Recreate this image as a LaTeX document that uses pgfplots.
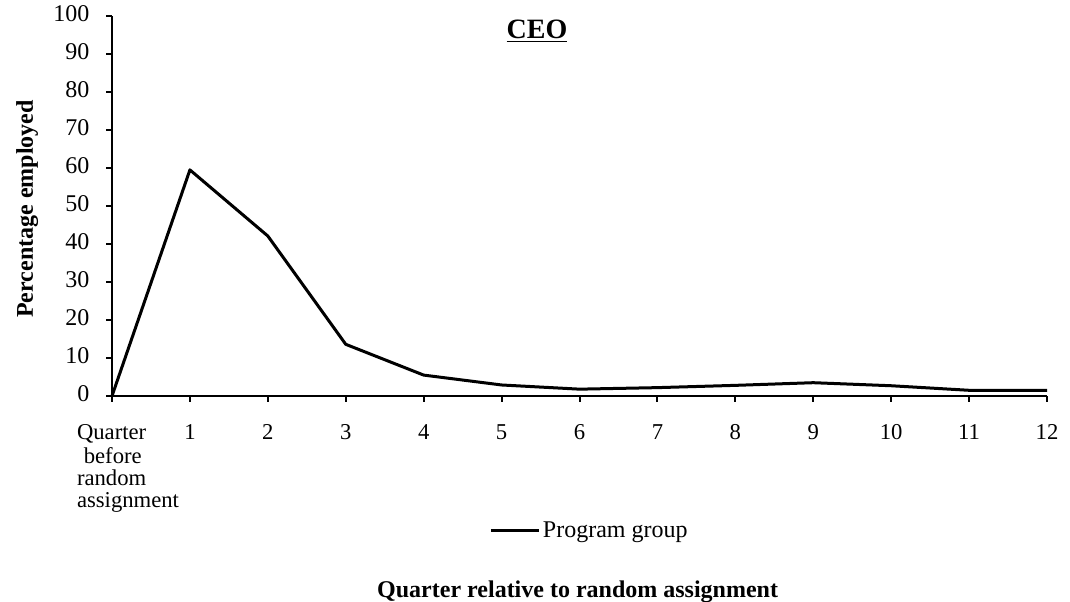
\documentclass[border=0pt]{standalone}
\usepackage{fontspec}
\setmainfont{Liberation Serif}
\usepackage{pgfplots}
\pgfplotsset{compat=1.18}
\begin{document}
\begin{tikzpicture}[x=0.75pt,y=0.75pt]
\useasboundingbox (0,0) rectangle (1070,602);
\begin{axis}[
  at={(112*0.75pt,206*0.75pt)}, anchor=origin,
  scale only axis, width=701.25pt, height=285pt,
  xmin=0, xmax=12, ymin=0, ymax=100,
  axis x line*=bottom, axis y line*=left,
  axis line style={line width=1.5pt, -},
  xtick={1,...,12},
  xticklabels={1,2,3,4,5,6,7,8,9,10,11,12},
  extra x ticks={0},
  extra x tick labels={{Quarter\\\hspace*{0.3em}before\\random\\assignment}},
  extra x tick style={xticklabel style={align=left, xshift=12pt}},
  typeset ticklabels with strut,
  xticklabel style={yshift=-13pt, font=\fontsize{17}{16.5}\selectfont},
  ytick={0,10,...,100},
  yticklabel style={xshift=-9pt, font=\fontsize{18}{20}\selectfont},
  /pgf/number format/assume math mode=true,
  tick style={line width=1.5pt, black},
  tick align=outside, major tick length=4.5pt,
  clip=false,
  ylabel={\textbf{Percentage employed}},
  ylabel style={font=\fontsize{18}{20}\selectfont, at={(axis description cs:-0.0845,0.492)}, anchor=base},
  xlabel={\textbf{Quarter relative to random assignment}},
  xlabel style={font=\fontsize{18}{20}\selectfont, at={(axis description cs:0.498,-0.529)}, anchor=base},
  title={\underline{\textbf{CEO}}},
  title style={font=\fontsize{21}{23}\selectfont, at={(axis description cs:0.4545,0.919)}, anchor=base},
  legend style={draw=none, at={(axis description cs:0.511,-0.355)}, anchor=center, font=\fontsize{18}{20}\selectfont, legend cell align=left, inner xsep=0pt, inner ysep=0pt},
  legend image code/.code={\draw[#1] (0pt,0pt) -- (36pt,0pt);},
]
\addplot[black, line width=2.25pt, line join=round] coordinates {
(0,0) (1,59.5) (2,42.1) (3,13.6) (4,5.5) (5,2.9) (6,1.8) (7,2.2) (8,2.8) (9,3.5) (10,2.7) (11,1.5) (12,1.5)
};
\addlegendentry{Program group}
\end{axis}
\end{tikzpicture}
\end{document}
